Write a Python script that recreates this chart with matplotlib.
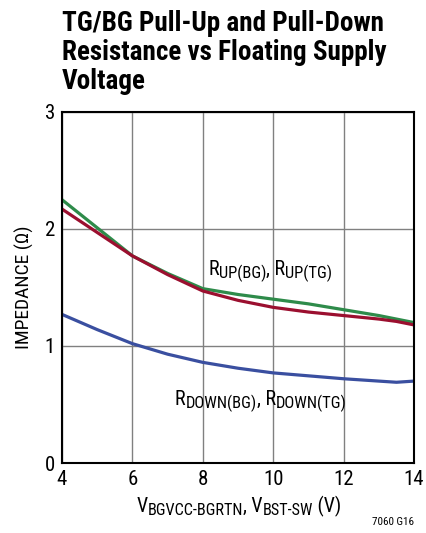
import matplotlib
matplotlib.use("Agg")
import matplotlib.pyplot as plt
from matplotlib import font_manager
from matplotlib.font_manager import FontProperties

# data
vsupply = [4, 5, 6, 7, 8, 9, 10, 11, 12, 13, 13.5, 14]
r_up_bg = [2.25, 2.01, 1.77, 1.62, 1.49, 1.44, 1.40, 1.36, 1.31, 1.26, 1.23, 1.20]
r_up_tg = [2.17, 1.97, 1.77, 1.61, 1.47, 1.39, 1.33, 1.29, 1.26, 1.23, 1.21, 1.18]
r_down = [1.27, 1.14, 1.02, 0.93, 0.86, 0.81, 0.77, 0.745, 0.72, 0.70, 0.69, 0.70]

xticks = [4, 6, 8, 10, 12, 14]
yticks = [0, 1, 2, 3]


def find_font(bold):
    """Look for a narrow/condensed sans font file, else fall back."""
    prefs = ['LiberationSansNarrow', 'RobotoCondensed', 'Roboto_Condensed',
             'NotoSans-Condensed', 'OpenSans_Condensed', 'OpenSansCondensed',
             'DejaVuSansCondensed']
    files = font_manager.fontManager.ttflist
    for p in prefs:
        for f in files:
            base = f.fname.replace(' ', '').split('/')[-1]
            if p.lower() not in base.lower():
                continue
            if f.style != 'normal':
                continue
            w = f.weight if isinstance(f.weight, int) else (700 if f.weight == 'bold' else 400)
            if bold and w == 700:
                return FontProperties(fname=f.fname)
            if not bold and w == 400:
                return FontProperties(fname=f.fname)
    return FontProperties(family='Liberation Sans', weight='bold' if bold else 'normal')


fp_reg = find_font(False)
fp_bold = find_font(True)


def fp(base, size):
    p = base.copy()
    p.set_size(size)
    return p


fig = plt.figure(figsize=(4.26, 5.33), dpi=100)
ax = fig.add_axes([0.1455, 0.1313, 0.8265, 0.6587])

ax.plot(vsupply, r_up_bg, color='#2e8b4a', lw=2.3, solid_capstyle='butt')
ax.plot(vsupply, r_up_tg, color='#9b0f2f', lw=2.3, solid_capstyle='butt')
ax.plot(vsupply, r_down, color='#3a4fa0', lw=2.3, solid_capstyle='butt')

ax.set_xlim(4, 14)
ax.set_ylim(0, 3)
ax.set_xticks(xticks)
ax.set_yticks(yticks)
ax.grid(True, color='#808080', lw=1.0)
ax.set_axisbelow(True)
ax.tick_params(length=0, pad=5)
for lab in ax.get_xticklabels() + ax.get_yticklabels():
    lab.set_fontproperties(fp(fp_reg, 15))
for s in ax.spines.values():
    s.set_linewidth(1.5)

ax.set_ylabel('IMPEDANCE (\u03a9)', fontproperties=fp(fp_reg, 14), labelpad=8)

renderer = fig.canvas.get_renderer()


def rich(x, y, parts, size, center=False):
    """Write text pieces with subscripts, positions in figure pixels (baseline)."""
    texts = []
    dx = 0
    for s, sub in parts:
        sz = size * 0.82 if sub else size
        off = -3 if sub else 0
        t = fig.text(0, 0, s, fontproperties=fp(fp_reg, sz), va='baseline', ha='left',
                     transform=None)
        t.set_position((x + dx, y + off))
        dx += t.get_window_extent(renderer).width
        texts.append((t, off))
    if center:
        for t, off in texts:
            px, py = t.get_position()
            t.set_position((px - dx / 2, py))
    return texts


H = 533
rich(239, H - 512, [('V', False), ('BGVCC-BGRTN', True), (', V', False), ('BST-SW', True), (' (V)', False)],
     14.3, center=True)
rich(208, H - 275, [('R', False), ('UP(BG)', True), (', R', False), ('UP(TG)', True)], 14.5)
rich(175, H - 405, [('R', False), ('DOWN(BG)', True), (', R', False), ('DOWN(TG)', True)], 14.5)

title_lines = ['TG/BG Pull-Up and Pull-Down', 'Resistance vs Floating Supply', 'Voltage']
for i, line in enumerate(title_lines):
    fig.text(62 / 426, 1 - (31 + 29 * i) / H, line, fontproperties=fp(fp_bold, 19.5),
             va='baseline', ha='left')
fig.text(0.972, 0.012, '7060 G16', fontproperties=fp(fp_reg, 8), ha='right', va='bottom')

fig.savefig('out.png', dpi=100)
